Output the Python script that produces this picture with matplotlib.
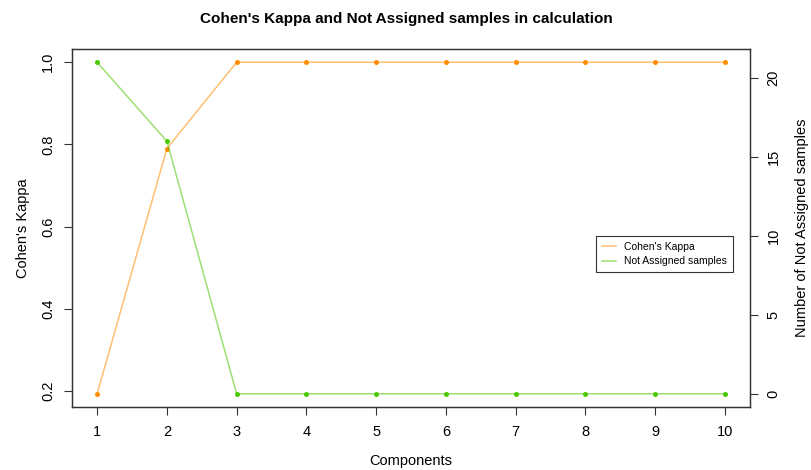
import numpy as np
import matplotlib
matplotlib.use("Agg")
import matplotlib.pyplot as plt
from matplotlib.lines import Line2D

components = [1, 2, 3, 4, 5, 6, 7, 8, 9, 10]
kappa = [0.193, 0.79, 1.0, 1.0, 1.0, 1.0, 1.0, 1.0, 1.0, 1.0]
not_assigned = [21, 16, 0, 0, 0, 0, 0, 0, 0, 0]

kappa_ticks = [0.2, 0.4, 0.6, 0.8, 1.0]
na_ticks = [0, 5, 10, 15, 20]

orange = "#FF8C00"
green = "#4CC800"

plt.rcParams['font.family'] = ['Liberation Sans', 'DejaVu Sans']

fig = plt.figure(figsize=(8.12, 4.70), dpi=100)
ax = fig.add_axes([0.0887, 0.134, 0.8349, 0.7617])

ax.plot(components, kappa, color=orange, alpha=0.55, lw=1.1)
ax.plot(components, kappa, 'o', color=orange, ms=3.6, mec='none')

def r_range(vals):
    lo, hi = min(vals), max(vals)
    pad = (hi - lo) * 0.04
    return lo - pad, hi + pad

ax.set_xlim(r_range(components))
ax.set_ylim(r_range(kappa))
ax.set_xticks(components)
ax.set_yticks(kappa_ticks)
ax.set_yticklabels([f"{t:.1f}" for t in kappa_ticks], rotation=90, va='center')
ax.tick_params(direction='out', length=6, width=0.8, labelsize=10.5, pad=6, colors='#333333', labelcolor='black')
ax.tick_params(axis='x', pad=7)
for s in ax.spines.values():
    s.set_linewidth(0.9)
    s.set_color('#333333')
ax.set_ylabel("Cohen's Kappa", fontsize=10.5, labelpad=8)
ax.set_xlabel("Components", fontsize=10.5, labelpad=11)

ax2 = ax.twinx()
ax2.plot(components, not_assigned, color=green, alpha=0.55, lw=1.1)
ax2.plot(components, not_assigned, 'o', color=green, ms=3.6, mec='none')
ax2.set_ylim(r_range(not_assigned))
ax2.set_yticks(na_ticks)
ax2.set_yticklabels([str(t) for t in na_ticks], rotation=90, va='center')
ax2.tick_params(direction='out', length=6, width=0.8, labelsize=10.5, pad=6, colors='#333333', labelcolor='black')
for s in ax2.spines.values():
    s.set_linewidth(0.9)
    s.set_color('#333333')
ax2.set_ylabel("Number of Not Assigned samples", fontsize=10.5, labelpad=10)

fig.suptitle("Cohen's Kappa and Not Assigned samples in calculation",
             fontsize=11, fontweight='bold', y=0.975)

handles = [Line2D([], [], color=orange, alpha=0.55, lw=1.1),
           Line2D([], [], color=green, alpha=0.55, lw=1.1)]
leg = ax2.legend(handles, ["Cohen's Kappa", "Not Assigned samples"],
                 loc='center right', bbox_to_anchor=(0.975, 0.427), fontsize=7.5,
                 fancybox=False, framealpha=1, edgecolor='#333333',
                 handlelength=1.3, handletextpad=0.8, borderpad=0.6,
                 labelspacing=0.4, borderaxespad=0)
leg.get_frame().set_linewidth(0.8)

fig.savefig("out.png", dpi=100)
